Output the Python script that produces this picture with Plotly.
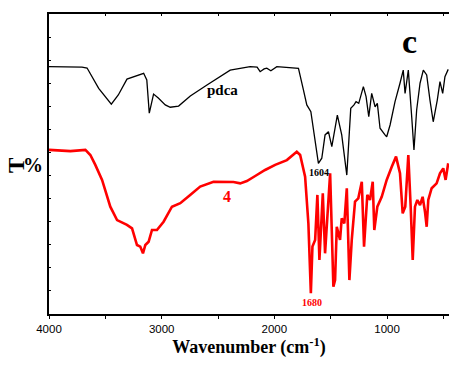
import plotly.graph_objects as go

# ---- data (wavenumber cm^-1, transmittance in arbitrary units) ----
pdca_wn = [4000, 3707, 3662, 3559, 3447, 3385, 3308, 3160, 3132, 3110, 3072, 3030, 2968, 2924,
           2850, 2746, 2598, 2392, 2215, 2153, 2126, 2091, 2067, 2031, 1978, 1860, 1786, 1742,
           1712, 1676, 1638, 1609, 1579, 1550, 1520, 1490, 1441, 1402, 1357, 1322, 1293, 1275,
           1251, 1210, 1186, 1162, 1136, 1106, 1086, 1062, 1018, 1003, 973, 929, 885, 856, 840,
           811, 781, 761, 737, 707, 678, 648, 619, 590, 554, 530, 506, 486, 457]
pdca_t = [107.2, 107.0, 106.6, 97.8, 90.9, 94.9, 101.8, 104.3, 101.4, 87.0, 95.3, 93.6, 90.6, 89.6,
          90.1, 94.5, 99.2, 105.7, 107.2, 107.0, 105.0, 106.2, 106.5, 105.4, 107.2, 106.6, 106.4, 97.1,
          90.6, 87.7, 75.4, 65.3, 67.5, 77.6, 79.0, 72.5, 86.2, 77.6, 60.2, 89.1, 90.6, 92.0,
          91.3, 98.5, 94.2, 85.5, 95.6, 89.8, 91.3, 80.5, 77.6, 76.8, 81.9, 92.0, 100.0, 105.7, 95.6,
          105.7, 85.5, 71.1, 88.4, 100.0, 105.7, 103.6, 92.7, 83.3, 92.7, 100.7, 95.6, 102.8, 106.0]

c4_wn = [4000, 3810, 3677, 3633, 3589, 3529, 3456, 3396, 3308, 3263, 3219, 3190, 3166, 3145, 3116,
         3086, 3042, 2983, 2909, 2835, 2747, 2658, 2540, 2436, 2363, 2303, 2244, 2170, 2082, 1993,
         1889, 1801, 1771, 1727, 1698, 1676, 1662, 1638, 1618, 1600, 1570, 1550, 1505, 1476, 1461,
         1446, 1417, 1402, 1379, 1357, 1334, 1313, 1284, 1255, 1224, 1204, 1175, 1151, 1127, 1113,
         1086, 1047, 1003, 958, 920, 885, 861, 838, 811, 790, 772, 752, 731, 707, 684, 663, 648,
         634, 604, 560, 530, 501, 480, 457]
c4_t = [71.1, 70.6, 71.1, 68.9, 64.6, 58.1, 46.5, 40.7, 38.6, 37.1, 29.9, 29.2, 26.3, 29.9, 31.3,
        36.4, 36.4, 40.0, 46.5, 48.0, 51.6, 55.2, 57.3, 57.4, 57.2, 56.6, 57.6, 59.8, 62.4, 64.6,
        66.7, 70.3, 68.9, 59.5, 39.3, 9.0, 29.2, 32.1, 51.6, 23.4, 52.3, 26.3, 61.0, 11.8, 14.7,
        37.8, 32.1, 41.5, 39.3, 54.5, 14.7, 32.1, 48.7, 50.1, 57.3, 29.2, 51.6, 49.4, 57.3, 36.4,
        46.5, 50.8, 58.1, 63.8, 68.2, 61.0, 43.6, 46.5, 68.9, 46.5, 23.4, 46.5, 49.4, 47.2, 50.8, 44.3, 37.8,
        49.4, 54.5, 56.6, 61.0, 63.1, 58.1, 65.3]

x_tickvals = [4000, 3500, 3000, 2500, 2000, 1500, 1000, 500]
x_ticktext = ["4000", "", "3000", "", "2000", "", "1000", ""]
y_tickvals = [10, 20, 30, 40, 50, 60, 70, 80, 90, 100, 110, 120]

serif = "Liberation Serif, Times New Roman, serif"
sans = "Liberation Sans, Arial, sans-serif"

fig = go.Figure()
fig.add_trace(go.Scatter(x=pdca_wn, y=pdca_t, mode="lines",
                         line=dict(color="#000000", width=1.3), showlegend=False))
fig.add_trace(go.Scatter(x=c4_wn, y=c4_t, mode="lines",
                         line=dict(color="#ff0000", width=2.6), showlegend=False))
# invisible trace to activate top axis
fig.add_trace(go.Scatter(x=[4000], y=[0], xaxis="x2", mode="markers",
                         marker=dict(opacity=0), showlegend=False, hoverinfo="skip"))

fig.update_layout(
    width=449, height=369,
    margin=dict(l=48.6, r=0, t=14, b=55, autoexpand=False),
    paper_bgcolor="white", plot_bgcolor="white",
    xaxis=dict(range=[4000, 450], tickvals=x_tickvals, ticktext=x_ticktext, automargin=False,
               ticks="outside", ticklen=3, tickwidth=1, tickcolor="black",
               showline=True, linecolor="black", linewidth=1.5, mirror=False,
               showgrid=False, zeroline=False,
               tickfont=dict(family=sans, size=11.5, color="black"),
               title=dict(text="<b>Wavenumber (cm<sup>-1</sup>)</b>", standoff=6,
                          font=dict(family=serif, size=18, color="black"))),
    xaxis2=dict(range=[4000, 450], overlaying="x", side="top", tickvals=x_tickvals, automargin=False,
                showticklabels=False, ticks="inside", ticklen=2, tickcolor="black",
                showline=True, linecolor="black", linewidth=1.5, showgrid=False, zeroline=False),
    yaxis=dict(range=[0, 130], tickvals=y_tickvals, showticklabels=False, automargin=False,
               ticks="inside", ticklen=2, tickcolor="black",
               showline=True, linecolor="black", linewidth=1.5, mirror=False,
               showgrid=False, zeroline=False),
    annotations=[
        dict(x=797, y=117.9, text="<b>c</b>", showarrow=False,
             font=dict(family=serif, size=34, color="black")),
        dict(x=2463, y=97.1, text="<b>pdca</b>", showarrow=False,
             font=dict(family=serif, size=15, color="black")),
        dict(x=2419, y=51.1, text="<b>4</b>", showarrow=False,
             font=dict(family=serif, size=16, color="#ff0000")),
        dict(x=1603, y=61.5, text="<b>1604</b>", showarrow=False,
             font=dict(family=serif, size=10, color="black")),
        dict(x=1665, y=4.8, text="<b>1680</b>", showarrow=False,
             font=dict(family=serif, size=10, color="#ff0000")),
    ],
)
# y-axis title: rotated "T" followed by "%"
fig.add_annotation(x=0, y=0.493, xref="paper", yref="paper", xanchor="center", yanchor="middle",
                   xshift=-33, text="<b>T</b>", textangle=-90, showarrow=False,
                   font=dict(family=serif, size=23, color="black"))
fig.add_annotation(x=0, y=0.496, xref="paper", yref="paper", xanchor="center", yanchor="middle",
                   xshift=-16, text="<b>%</b>", showarrow=False,
                   font=dict(family=serif, size=20, color="black"))

fig.write_html("out.html", config={"displayModeBar": False},
               post_script="document.body.style.margin='0';")
